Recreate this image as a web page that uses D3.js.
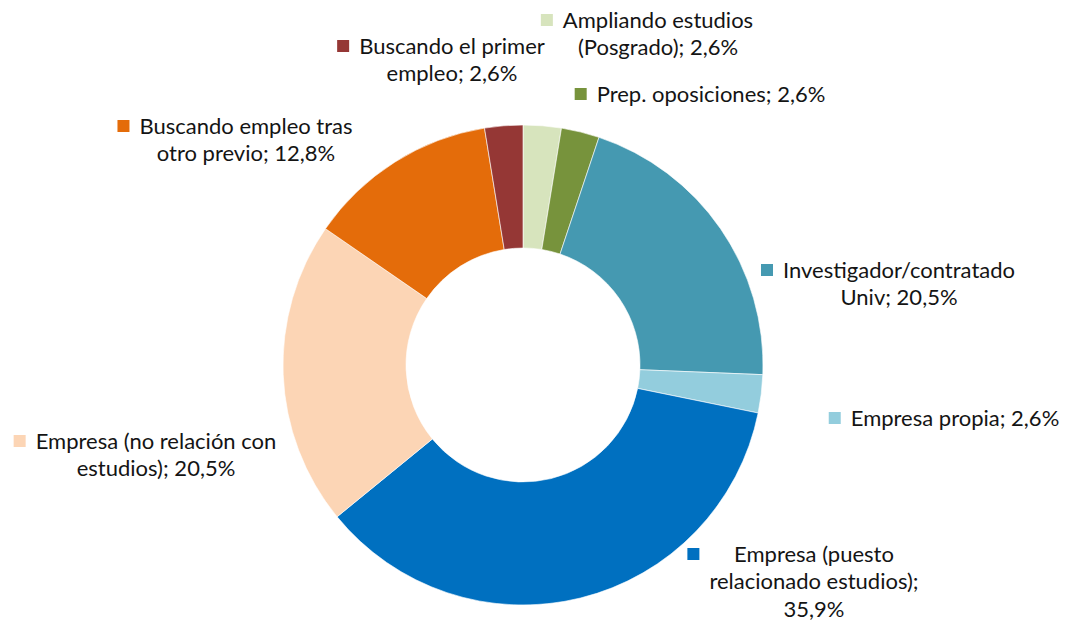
<!DOCTYPE html>
<html>
<head>
<meta charset="utf-8">
<script src="https://cdn.jsdelivr.net/npm/d3@7"></script>
<style>
  body { margin: 0; background: #fff; }
  text { font-family: Lato, "Open Sans", sans-serif; fill: #141414; }
</style>
</head>
<body>
<svg width="1067" height="624"></svg>
<script>
// data (counts out of 39 respondents -> percentages shown)
var categories = [
  "Ampliando estudios (Posgrado)",
  "Prep. oposiciones",
  "Investigador/contratado Univ",
  "Empresa propia",
  "Empresa (puesto relacionado estudios)",
  "Empresa (no relación con estudios)",
  "Buscando empleo tras otro previo",
  "Buscando el primer empleo"
];
var counts = [1, 1, 8, 1, 14, 8, 5, 1];
var percentLabels = ["2,6%", "2,6%", "20,5%", "2,6%", "35,9%", "20,5%", "12,8%", "2,6%"];
var colors = ["#d7e4bd", "#77933c", "#4599b1", "#93cddd", "#0070c0", "#fcd5b5", "#e46c0a", "#953735"];

// label text lines as wrapped in the original
var labelLines = [
  ["Ampliando estudios", "(Posgrado); 2,6%"],
  ["Prep. oposiciones; 2,6%"],
  ["Investigador/contratado", "Univ; 20,5%"],
  ["Empresa propia; 2,6%"],
  ["Empresa (puesto", "relacionado estudios);", "35,9%"],
  ["Empresa (no relación con", "estudios); 20,5%"],
  ["Buscando empleo tras", "otro previo; 12,8%"],
  ["Buscando el primer", "empleo; 2,6%"]
];

// layout: label block centre x, first line centre y
var labelPos = [
  [658, 20], [711, 94], [899, 270], [955, 418],
  [814, 554], [156, 441], [246, 126], [452, 46]
];

var svg = d3.select("svg"),
    cx = 523, cy = 365,
    outerR = 240, innerR = 117,
    lineH = 27.5;

var pie = d3.pie().sort(null).value(function(d) { return d; });
var arc = d3.arc().innerRadius(innerR).outerRadius(outerR);

var g = svg.append("g").attr("transform", "translate(" + cx + "," + cy + ")");

g.selectAll("path")
  .data(pie(counts))
  .enter().append("path")
  .attr("d", arc)
  .attr("fill", function(d, i) { return colors[i]; })
  .attr("stroke", "#fff")
  .attr("stroke-width", 0.6);

// labels
var labels = svg.append("g").attr("class", "labels");
labelLines.forEach(function(lines, i) {
  var lg = labels.append("g");
  var t = lg.append("text")
    .attr("text-anchor", "middle")
    .style("font-size", "22px");
  lines.forEach(function(l, j) {
    t.append("tspan")
      .attr("x", labelPos[i][0])
      .attr("y", labelPos[i][1] + j * lineH)
      .attr("dy", "0.35em")
      .text(l);
  });
  var maxW = 0;
  t.selectAll("tspan").each(function() {
    maxW = Math.max(maxW, this.getComputedTextLength());
  });
  lg.append("rect")
    .attr("x", labelPos[i][0] - maxW / 2 - 22)
    .attr("y", labelPos[i][1] - 6)
    .attr("width", 12)
    .attr("height", 12)
    .attr("fill", colors[i]);
});
</script>
</body>
</html>
